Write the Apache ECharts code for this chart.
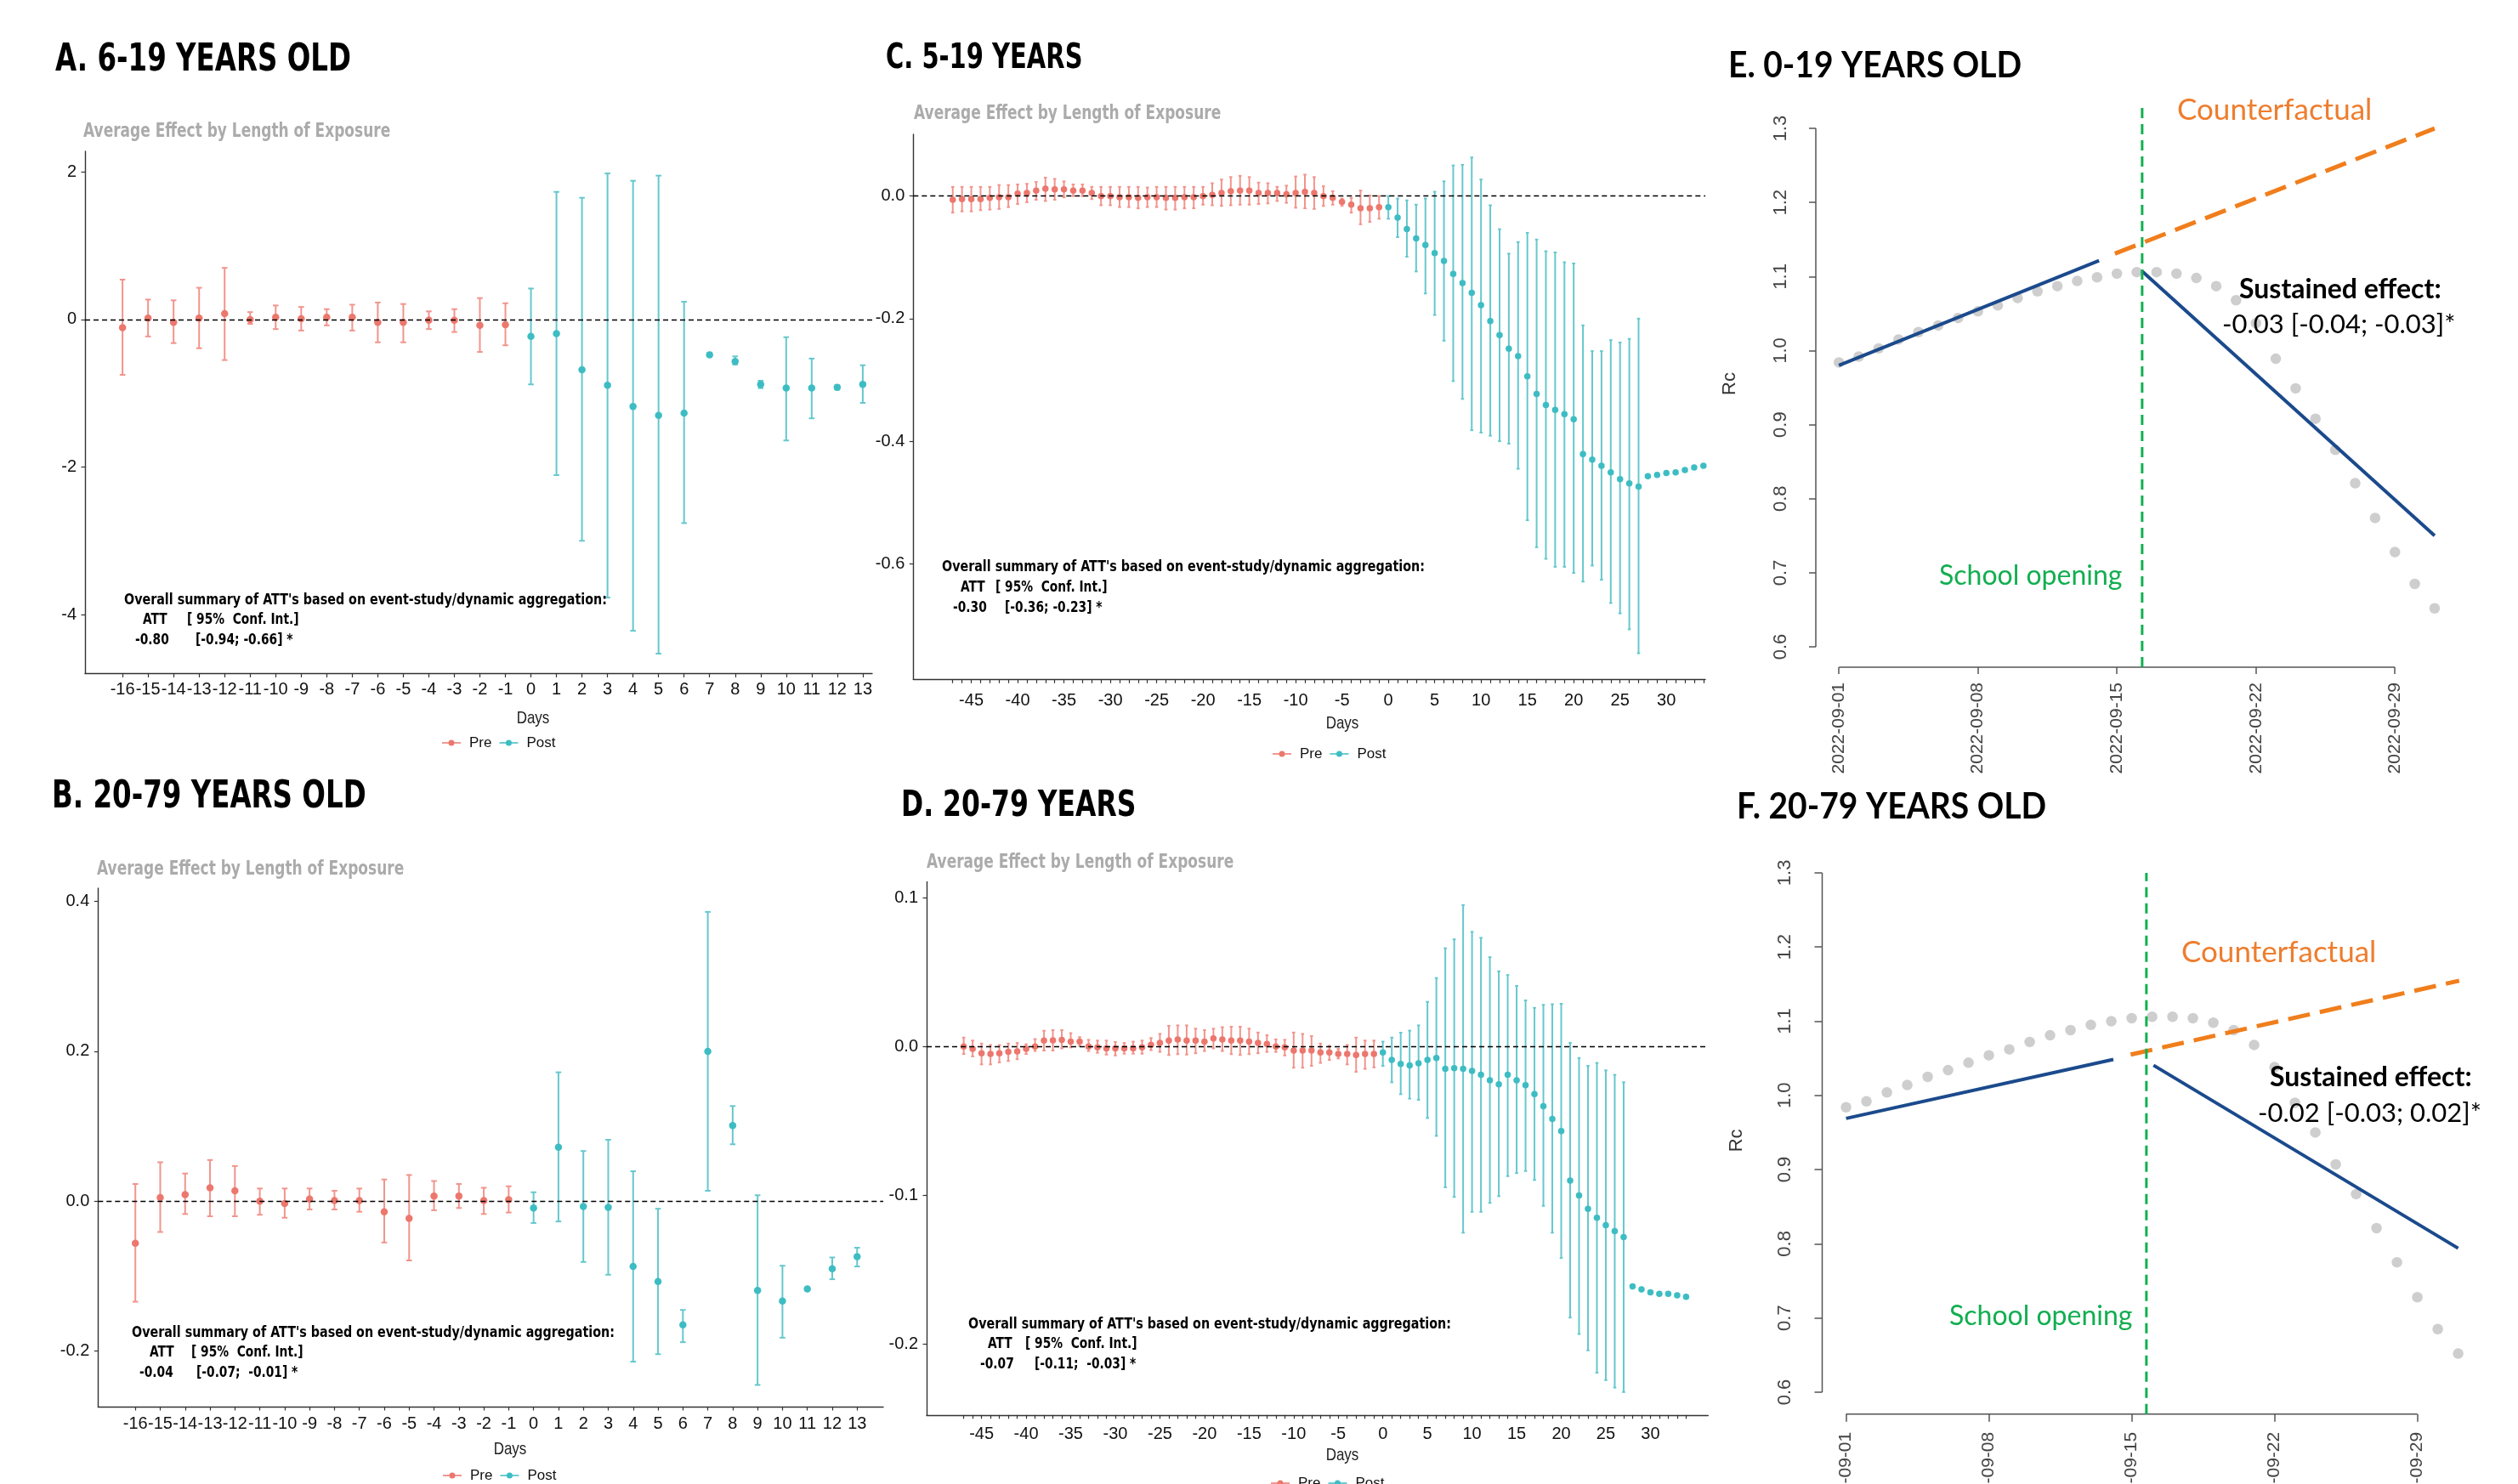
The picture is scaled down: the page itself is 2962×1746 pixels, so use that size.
<!DOCTYPE html>
<html><head><meta charset="utf-8">
<script src="https://cdn.jsdelivr.net/npm/echarts@6/dist/echarts.min.js"></script>
<style>html,body{margin:0;padding:0;background:#fff}#c{width:2962px;height:1746px}</style>
</head><body><div id="c"></div>
<script>
// ---------------- DATA ----------------
// Panels A & B: event-study days
const daysShort = [-16,-15,-14,-13,-12,-11,-10,-9,-8,-7,-6,-5,-4,-3,-2,-1,0,1,2,3,4,5,6,7,8,9,10,11,12,13];
const estA  = [-0.11,0.02,-0.04,0.02,0.08,0.00,0.03,0.01,0.03,0.03,-0.04,-0.04,-0.01,-0.01,-0.08,-0.07,
               -0.23,-0.19,-0.68,-0.89,-1.18,-1.30,-1.27,-0.48,-0.57,-0.88,-0.93,-0.93,-0.92,-0.88];
const lowA  = [-0.75,-0.23,-0.32,-0.39,-0.55,-0.06,-0.13,-0.15,-0.08,-0.15,-0.31,-0.31,-0.13,-0.17,-0.44,-0.35,
               -0.88,-2.11,-3.00,-3.77,-4.22,-4.53,-2.76,-0.50,-0.61,-0.93,-1.64,-1.34,-0.95,-1.13];
const highA = [0.54,0.27,0.26,0.43,0.70,0.10,0.19,0.17,0.14,0.20,0.23,0.21,0.11,0.14,0.29,0.22,
               0.42,1.73,1.65,1.98,1.88,1.95,0.24,-0.45,-0.50,-0.83,-0.24,-0.53,-0.89,-0.62];
const yTicksA = [-4,-2,0,2];

const estB  = [-0.056,0.005,0.009,0.018,0.014,0.000,-0.003,0.003,0.001,0.001,-0.014,-0.023,0.007,0.007,0.001,0.002,
               -0.009,0.072,-0.007,-0.008,-0.087,-0.107,-0.165,0.200,0.101,-0.119,-0.133,-0.117,-0.090,-0.074];
const lowB  = [-0.134,-0.041,-0.017,-0.020,-0.020,-0.018,-0.022,-0.011,-0.011,-0.014,-0.055,-0.079,-0.012,-0.009,-0.017,-0.015,
               -0.029,-0.027,-0.081,-0.098,-0.214,-0.204,-0.188,0.014,0.076,-0.245,-0.182,-0.119,-0.104,-0.087];
const highB = [0.023,0.052,0.037,0.055,0.047,0.017,0.017,0.017,0.014,0.017,0.029,0.035,0.027,0.023,0.018,0.020,
               0.012,0.172,0.067,0.082,0.040,-0.010,-0.145,0.386,0.127,0.008,-0.086,-0.115,-0.075,-0.062];
const yTicksB = [-0.2,0,0.2,0.4];

// Panels C & D
const daysLong = [-47,-46,-45,-44,-43,-42,-41,-40,-39,-38,-37,-36,-35,-34,-33,-32,-31,-30,-29,-28,-27,-26,-25,-24,-23,-22,-21,-20,-19,-18,
  -17,-16,-15,-14,-13,-12,-11,-10,-9,-8,-7,-6,-5,-4,-3,-2,-1,0,1,2,3,4,5,6,7,8,9,10,11,12,13,14,15,16,17,18,19,20,21,22,23,24,25,26,27,28,29,30,31,32,33,34];
const xLabelsLong = [-45,-40,-35,-30,-25,-20,-15,-10,-5,0,5,10,15,20,25,30];

const estC = [-0.006,-0.005,-0.005,-0.005,-0.003,-0.002,-0.002,0.004,0.005,0.009,
  0.012,0.011,0.011,0.009,0.009,0.005,0.000,0.000,-0.002,-0.002,
  -0.003,-0.002,-0.002,-0.003,-0.003,-0.002,-0.002,0.000,0.002,0.005,
  0.008,0.009,0.009,0.005,0.005,0.005,0.003,0.005,0.007,0.005,
  0.000,-0.003,-0.0095,-0.014,-0.020,-0.020,-0.018,
  -0.018,-0.035,-0.054,-0.069,-0.080,-0.093,-0.106,-0.127,-0.142,-0.158,
  -0.178,-0.204,-0.227,-0.249,-0.261,-0.294,-0.323,-0.341,-0.349,-0.356,
  -0.364,-0.421,-0.430,-0.440,-0.451,-0.462,-0.469,-0.474,
  -0.457,-0.455,-0.452,-0.451,-0.447,-0.443,-0.440];
const lowC = [-0.027,-0.025,-0.025,-0.023,-0.022,-0.021,-0.018,-0.013,-0.010,-0.006,
  -0.008,-0.006,-0.002,0.000,0.000,-0.005,-0.015,-0.015,-0.018,-0.018,
  -0.020,-0.018,-0.018,-0.022,-0.022,-0.020,-0.020,-0.014,-0.015,-0.016,
  -0.015,-0.014,-0.014,-0.013,-0.012,-0.008,-0.011,-0.019,-0.020,-0.021,
  -0.016,-0.014,-0.016,-0.027,-0.046,-0.042,-0.037,
  -0.037,-0.067,-0.099,-0.123,-0.159,-0.194,-0.236,-0.302,-0.331,-0.382,
  -0.386,-0.391,-0.400,-0.404,-0.445,-0.529,-0.573,-0.592,-0.605,-0.605,
  -0.615,-0.629,-0.603,-0.626,-0.664,-0.681,-0.707,-0.746,
  -0.459,-0.457,-0.454,-0.453,-0.449,-0.445,-0.442];
const highC = [0.015,0.015,0.015,0.015,0.015,0.018,0.018,0.019,0.020,0.023,
  0.030,0.028,0.024,0.019,0.019,0.015,0.015,0.015,0.015,0.015,
  0.015,0.014,0.015,0.015,0.015,0.015,0.015,0.015,0.021,0.027,
  0.031,0.033,0.031,0.022,0.021,0.015,0.017,0.032,0.035,0.031,
  0.016,0.008,-0.004,-0.003,0.009,0.001,0.000,
  0.000,-0.004,-0.007,-0.014,-0.004,0.007,0.024,0.050,0.051,0.063,
  0.027,-0.015,-0.054,-0.094,-0.075,-0.060,-0.071,-0.090,-0.092,-0.108,
  -0.110,-0.211,-0.253,-0.253,-0.235,-0.239,-0.233,-0.200,
  -0.455,-0.453,-0.450,-0.449,-0.445,-0.441,-0.438];
const yTicksC = [-0.6,-0.4,-0.2,0];

const estD = [0.000,-0.0015,-0.0045,-0.005,-0.0045,-0.0036,-0.0033,-0.0015,0.000,0.004,
  0.0042,0.0045,0.0033,0.0033,0.000,-0.0006,-0.0012,-0.0012,-0.0012,-0.0012,
  -0.0006,0.0012,0.0024,0.004,0.0048,0.004,0.004,0.0033,0.0054,0.0048,
  0.004,0.004,0.0033,0.0024,0.0018,0.000,-0.0006,-0.0027,-0.0027,-0.0027,
  -0.004,-0.004,-0.005,-0.005,-0.0057,-0.005,-0.005,
  -0.004,-0.009,-0.0117,-0.0126,-0.0112,-0.009,-0.0077,-0.015,-0.0145,-0.015,
  -0.0164,-0.019,-0.0227,-0.0254,-0.019,-0.0227,-0.026,-0.032,-0.040,-0.0486,
  -0.0568,-0.090,-0.100,-0.109,-0.115,-0.120,-0.124,-0.128,
  -0.161,-0.163,-0.165,-0.166,-0.166,-0.167,-0.168];
const lowD = [-0.005,-0.0066,-0.012,-0.012,-0.0106,-0.0097,-0.0085,-0.005,-0.003,-0.0027,
  -0.0027,-0.0012,-0.0006,0.0003,-0.003,-0.0042,-0.0054,-0.006,-0.0048,-0.0048,
  -0.0048,-0.0024,-0.0036,-0.0057,-0.0051,-0.0054,-0.0045,-0.003,-0.0012,-0.003,
  -0.0051,-0.0057,-0.0051,-0.0045,-0.0036,-0.0036,-0.006,-0.0142,-0.0142,-0.013,
  -0.011,-0.009,-0.008,-0.012,-0.017,-0.015,-0.014,
  -0.013,-0.024,-0.032,-0.035,-0.0358,-0.048,-0.060,-0.0945,-0.101,-0.125,
  -0.111,-0.111,-0.105,-0.1005,-0.087,-0.085,-0.0836,-0.0896,-0.107,-0.125,
  -0.142,-0.182,-0.193,-0.204,-0.219,-0.224,-0.229,-0.232,
  -0.162,-0.164,-0.166,-0.167,-0.167,-0.168,-0.169];
const highD = [0.006,0.004,0.002,0.001,0.001,0.002,0.0024,0.0015,0.005,0.0106,
  0.011,0.011,0.009,0.0063,0.0045,0.004,0.004,0.003,0.0024,0.0033,
  0.004,0.0057,0.0085,0.0139,0.0142,0.0142,0.012,0.011,0.012,0.013,
  0.0133,0.0133,0.012,0.0094,0.0076,0.0048,0.0045,0.0094,0.0085,0.007,
  0.002,0.0005,-0.0016,0.001,0.006,0.004,0.004,
  0.0033,0.006,0.0093,0.0107,0.0142,0.030,0.046,0.066,0.072,0.095,
  0.077,0.073,0.060,0.0505,0.048,0.0407,0.031,0.026,0.028,0.0284,
  0.0287,0.0025,-0.0077,-0.013,-0.011,-0.016,-0.019,-0.024,
  -0.160,-0.162,-0.164,-0.165,-0.165,-0.166,-0.167];
const yTicksD = [-0.2,-0.1,0,0.1];

// Panels E & F: days since 2022-09-01
const dateTickDays = [0,7,14,21,28];
const dateTickLabels = ['2022-09-01','2022-09-08','2022-09-15','2022-09-22','2022-09-29'];
const rcTicks = [0.6,0.7,0.8,0.9,1.0,1.1,1.2,1.3];
const obsDays = [0,1,2,3,4,5,6,7,8,9,10,11,12,13,14,15,16,17,18,19,20,21,22,23,24,25,26,27,28,29,30];
const obsE = [0.984,0.992,1.003,1.015,1.025,1.034,1.044,1.053,1.061,1.071,1.080,1.087,1.094,1.099,1.104,1.106,
              1.106,1.104,1.098,1.087,1.068,1.037,0.989,0.949,0.908,0.866,0.821,0.774,0.728,0.685,0.652];
const preTrendE  = [[0,0.980],[13.1,1.1215]];
const counterE   = [[13.9,1.131],[30,1.300]];
const postTrendE = [[15.25,1.1076],[30,0.750]];
const openingE   = 15.27;
const openingSpanE = [0.5725,1.3336];

const obsF = [0.984,0.992,1.004,1.014,1.025,1.034,1.044,1.054,1.062,1.072,1.081,1.088,1.095,1.100,1.104,1.106,
              1.106,1.104,1.098,1.088,1.068,1.038,0.990,0.950,0.907,0.867,0.821,0.775,0.728,0.685,0.652];
const preTrendF  = [[0,0.969],[13.1,1.0485]];
const counterF   = [[13.95,1.055],[30.05,1.1545]];
const postTrendF = [[15.07,1.0406],[30,0.794]];
const openingF   = 14.72;
const openingSpanF = [0.5704,1.300];

// ---------------- LAYOUT / STYLE ----------------
const L = {
  A:{left:100,top:178,width:926,height:614.5,xMin:-17.47,xMax:13.37,yMin:-4.8,yMax:2.28,xMargin:9,cap:3.3,sym:8.5,dec:0},
  B:{left:115.3,top:1045,width:923.7,height:610,xMin:-17.5,xMax:14.05,yMin:-0.274,yMax:0.4176,xMargin:10.5,cap:3.3,sym:8.5,dec:1},
  C:{left:1074.3,top:158,width:931.7,height:641.3,xMin:-51.26,xMax:34.2,yMin:-0.7886,yMax:0.1008,xMargin:15,cap:1.8,sym:7.5,dec:1},
  D:{left:1090,top:1037.5,width:919.3,height:627.3,xMin:-51.16,xMax:36.47,yMin:-0.2474,yMax:0.1106,xMargin:13,cap:1.8,sym:7.5,dec:1},
  E:{left:2136,top:118,width:759,height:667,xMin:-1.164,xMax:31.33,yMin:0.5725,yMax:1.338,xm:18,ym:30,tick:8},
  F:{left:2143.5,top:1020,width:786.5,height:643.8,xMin:-1.17,xMax:31.6,yMin:0.5704,yMax:1.3079,xm:21,ym:33,tick:9}
};
const PRE_PT='#EC776D', PRE_BAR='#F2948C', POST_PT='#3DBDC3', POST_BAR='#66C8CD';
const TICKFONT='Liberation Sans';

const grids=[], xAxes=[], yAxes=[], series=[];

function errorBar(cap, color, lw){
  return function(params, api){
    const x = api.value(0);
    const a = api.coord([x, api.value(1)]);
    const b = api.coord([x, api.value(2)]);
    const st = {stroke:color, lineWidth:lw};
    return {type:'group', children:[
      {type:'line', shape:{x1:a[0],y1:a[1],x2:b[0],y2:b[1]}, style:st},
      {type:'line', shape:{x1:a[0]-cap,y1:a[1],x2:a[0]+cap,y2:a[1]}, style:st},
      {type:'line', shape:{x1:b[0]-cap,y1:b[1],x2:b[0]+cap,y2:b[1]}, style:st}
    ]};
  };
}

const gg = [
  {k:'A', days:daysShort, est:estA, low:lowA, high:highA, yTicks:yTicksA, xLabels:daysShort},
  {k:'B', days:daysShort, est:estB, low:lowB, high:highB, yTicks:yTicksB, xLabels:daysShort},
  {k:'C', days:daysLong,  est:estC, low:lowC, high:highC, yTicks:yTicksC, xLabels:xLabelsLong},
  {k:'D', days:daysLong,  est:estD, low:lowD, high:highD, yTicks:yTicksD, xLabels:xLabelsLong}
];

gg.forEach((p,i)=>{
  const g=L[p.k];
  grids.push({left:g.left, top:g.top, width:g.width, height:g.height, containLabel:false, outerBoundsMode:'none'});
  xAxes.push({type:'value', gridIndex:i, min:g.xMin, max:g.xMax,
    axisLine:{show:true, onZero:false, lineStyle:{color:'#333', width:1.4}},
    axisTick:{show:true, length:4.5, customValues:p.days, lineStyle:{color:'#333', width:1.2}},
    axisLabel:{show:true, customValues:p.xLabels, margin:g.xMargin, fontFamily:TICKFONT, fontSize:20, color:'#111', hideOverlap:false, formatter:v=>String(v)},
    splitLine:{show:false}});
  yAxes.push({type:'value', gridIndex:i, min:g.yMin, max:g.yMax,
    axisLine:{show:true, onZero:false, lineStyle:{color:'#333', width:1.4}},
    axisTick:{show:true, length:4.5, customValues:p.yTicks, lineStyle:{color:'#333', width:1.2}},
    axisLabel:{show:true, customValues:p.yTicks, margin:10, fontFamily:TICKFONT, fontSize:20, color:'#111', formatter:v=>v.toFixed(g.dec)},
    splitLine:{show:false}});
  const pre=[], post=[], preP=[], postP=[];
  p.days.forEach((d,j)=>{
    const r=[d,p.low[j],p.high[j]], q=[d,p.est[j]];
    if(d<0){pre.push(r);preP.push(q);} else {post.push(r);postP.push(q);}
  });
  series.push({type:'custom', name:'Pre 95% CI', xAxisIndex:i, yAxisIndex:i, renderItem:errorBar(g.cap,PRE_BAR,2), data:pre, encode:{x:0,y:[1,2]}, z:2, silent:true});
  series.push({type:'custom', name:'Post 95% CI', xAxisIndex:i, yAxisIndex:i, renderItem:errorBar(g.cap,POST_BAR,2), data:post, encode:{x:0,y:[1,2]}, z:2, silent:true});
  series.push({type:'scatter', name:'Pre', xAxisIndex:i, yAxisIndex:i, data:preP, symbolSize:g.sym, itemStyle:{color:PRE_PT, opacity:1}, z:4, silent:true,
    markLine:{silent:true, symbol:'none', label:{show:false}, data:[{yAxis:0}], lineStyle:{color:'#000', type:[6,4], width:1.3}, z:5}});
  series.push({type:'scatter', name:'Post', xAxisIndex:i, yAxisIndex:i, data:postP, symbolSize:g.sym, itemStyle:{color:POST_PT, opacity:1}, z:4, silent:true});
});

const its = [
  {k:'E', obs:obsE, pre:preTrendE, cf:counterE, post:postTrendE, open:openingE, span:openingSpanE},
  {k:'F', obs:obsF, pre:preTrendF, cf:counterF, post:postTrendF, open:openingF, span:openingSpanF}
];
its.forEach((p,n)=>{
  const i=4+n, g=L[p.k];
  grids.push({left:g.left, top:g.top, width:g.width, height:g.height, containLabel:false, outerBoundsMode:'none'});
  xAxes.push({type:'value', gridIndex:i, min:g.xMin, max:g.xMax,
    axisLine:{show:false, onZero:false},
    axisTick:{show:true, length:g.tick, customValues:dateTickDays, lineStyle:{color:'#555', width:1.5}},
    axisLabel:{show:true, customValues:dateTickDays, rotate:90, margin:g.xm, fontFamily:TICKFONT, fontSize:21, color:'#444',
      formatter:v=>dateTickLabels[dateTickDays.indexOf(Math.round(v))]},
    splitLine:{show:false}});
  yAxes.push({type:'value', gridIndex:i, min:g.yMin, max:g.yMax, name:'Rc', nameLocation:'middle', nameGap:90,
    nameTextStyle:{fontFamily:TICKFONT, fontSize:22, color:'#333'},
    axisLine:{show:false, onZero:false},
    axisTick:{show:true, length:g.tick, customValues:rcTicks, lineStyle:{color:'#555', width:1.5}},
    axisLabel:{show:true, customValues:rcTicks, rotate:90, margin:g.ym, fontFamily:TICKFONT, fontSize:22, color:'#444', formatter:v=>v.toFixed(1)},
    splitLine:{show:false}});
  const base = {xAxisIndex:i, yAxisIndex:i, silent:true, showSymbol:false, symbol:'none', clip:false};
  // R-style axis lines spanning first..last tick
  series.push(Object.assign({type:'line', name:'x axis '+p.k, data:[[dateTickDays[0],g.yMin],[dateTickDays[dateTickDays.length-1],g.yMin]], lineStyle:{color:'#555', width:1.5}, z:1}, base));
  series.push(Object.assign({type:'line', name:'y axis '+p.k, data:[[g.xMin,rcTicks[0]],[g.xMin,rcTicks[rcTicks.length-1]]], lineStyle:{color:'#555', width:1.5}, z:1}, base));
  series.push({type:'scatter', name:'Observed Rc '+p.k, xAxisIndex:i, yAxisIndex:i, data:obsDays.map((d,j)=>[d,p.obs[j]]), symbolSize:12.5, itemStyle:{color:'#C2C2C2'}, z:2, silent:true});
  series.push(Object.assign({type:'line', name:'Pre trend '+p.k, data:p.pre, lineStyle:{color:'#1B4A8C', width:4}, z:3}, base));
  series.push(Object.assign({type:'line', name:'Post trend '+p.k, data:p.post, lineStyle:{color:'#1B4A8C', width:4}, z:3}, base));
  series.push(Object.assign({type:'line', name:'Counterfactual '+p.k, data:p.cf, lineStyle:{color:'#F07E1C', width:5, type:[26,12]}, z:3}, base));
  series.push(Object.assign({type:'line', name:'School opening '+p.k, data:[[p.open,p.span[0]],[p.open,p.span[1]]], lineStyle:{color:'#11B04F', width:3, type:[12,7]}, z:4}, base));
});

// ---------------- TEXT ----------------
function T(x,y,text,font,fill,align,sy){
  return {type:'text', x:x, y:y, z:100, silent:true, scaleY:sy||1,
    style:{text:text, font:font, fill:fill, textAlign:align||'left', align:align||'left', textVerticalAlign:'middle', verticalAlign:'middle'}};
}
const TB = (s)=>'bold '+s+'px "DejaVu Sans"';
const LB = (s)=>'bold '+s+'px Lato';
const line1 = "Overall summary of ATT's based on event-study/dynamic aggregation:";
const AF1 = TB(14.3), AF2 = TB(13.8), SY=1.25;
const SUB = 'Average Effect by Length of Exposure';
const texts = [
  // panel titles
  T(65,72,'A. 6-19 YEARS OLD',TB(32.5),'#000','left',1.35),
  T(1042,69,'C. 5-19 YEARS',TB(29),'#000','left',1.4),
  T(61,939,'B. 20-79 YEARS OLD',TB(32.5),'#000','left',1.35),
  T(1060,949,'D. 20-79 YEARS',TB(31.5),'#000','left',1.35),
  T(2033,77,'E. 0-19 YEARS OLD',LB(39),'#000','left',1.1),
  T(2043,949,'F. 20-79 YEARS OLD',LB(39),'#000','left',1.1),
  // subtitles
  T(98,155,SUB,TB(17),'#ABABAB','left',1.3), T(1075,134,SUB,TB(17),'#ABABAB','left',1.3),
  T(114,1023,SUB,TB(17),'#ABABAB','left',1.3), T(1090,1015,SUB,TB(17),'#ABABAB','left',1.3),
  // ATT summaries
  T(146,706,line1,AF1,'#000','left',SY), T(168,730,'ATT',AF2,'#000','left',SY), T(220,730,'[ 95%  Conf. Int.]',AF2,'#000','left',SY), T(159,754,'-0.80',AF2,'#000','left',SY), T(230,754,'[-0.94; -0.66] *',AF2,'#000','left',SY),
  T(1108,667,line1,AF1,'#000','left',SY), T(1130,692,'ATT',AF2,'#000','left',SY), T(1171,692,'[ 95%  Conf. Int.]',AF2,'#000','left',SY), T(1121,716,'-0.30',AF2,'#000','left',SY), T(1182,716,'[-0.36; -0.23] *',AF2,'#000','left',SY),
  T(155,1568,line1,AF1,'#000','left',SY), T(176,1592,'ATT',AF2,'#000','left',SY), T(225,1592,'[ 95%  Conf. Int.]',AF2,'#000','left',SY), T(164,1616,'-0.04',AF2,'#000','left',SY), T(231,1616,'[-0.07;  -0.01] *',AF2,'#000','left',SY),
  T(1139,1558,line1,AF1,'#000','left',SY), T(1162,1582,'ATT',AF2,'#000','left',SY), T(1206,1582,'[ 95%  Conf. Int.]',AF2,'#000','left',SY), T(1153,1606,'-0.07',AF2,'#000','left',SY), T(1217,1606,'[-0.11;  -0.03] *',AF2,'#000','left',SY),
  // axis titles
  T(627,846,'Days','17px "Liberation Sans"','#222','center',1.15), T(1579,852,'Days','17px "Liberation Sans"','#222','center',1.15),
  T(600,1706,'Days','17px "Liberation Sans"','#222','center',1.15), T(1579,1713,'Days','17px "Liberation Sans"','#222','center',1.15),
  // E annotations
  T(2561,130,'Counterfactual','35px Lato','#EE7D2E'), T(2281,678,'School opening','32px Lato','#12AE50'),
  T(2634,341,'Sustained effect:','bold 32px Lato','#000'), T(2614,382,'-0.03 [-0.04; -0.03]*','31px Lato','#000'),
  // F annotations
  T(2566,1121,'Counterfactual','35px Lato','#EE7D2E'), T(2293,1549,'School opening','32px Lato','#12AE50'),
  T(2670,1268,'Sustained effect:','bold 32px Lato','#000'), T(2656,1310,'-0.02 [-0.03; 0.02]*','31px Lato','#000')
];

const LEG_ICON = 'path://M0,3.2L22,3.2L22,4.8L0,4.8Z M14.5,4A3.5,3.5,0,1,1,7.5,4A3.5,3.5,0,1,1,14.5,4Z';
const legends = [[520,869],[521,1731],[1497,882],[1495,1740]].map(l=>({
  data:['Pre','Post'], left:l[0], top:l[1]-3.5, padding:0, itemWidth:22, itemHeight:7, itemGap:9, icon:LEG_ICON,
  selectedMode:false, textStyle:{fontFamily:TICKFONT, fontSize:17, color:'#111', padding:[0,0,0,5]}
}));

const chart = echarts.init(document.getElementById('c'), null, {renderer:'canvas'});
chart.setOption({
  animation:false, backgroundColor:'#fff',
  legend:legends, grid:grids, xAxis:xAxes, yAxis:yAxes, series:series,
  graphic:{elements:texts}
});
</script></body></html>
